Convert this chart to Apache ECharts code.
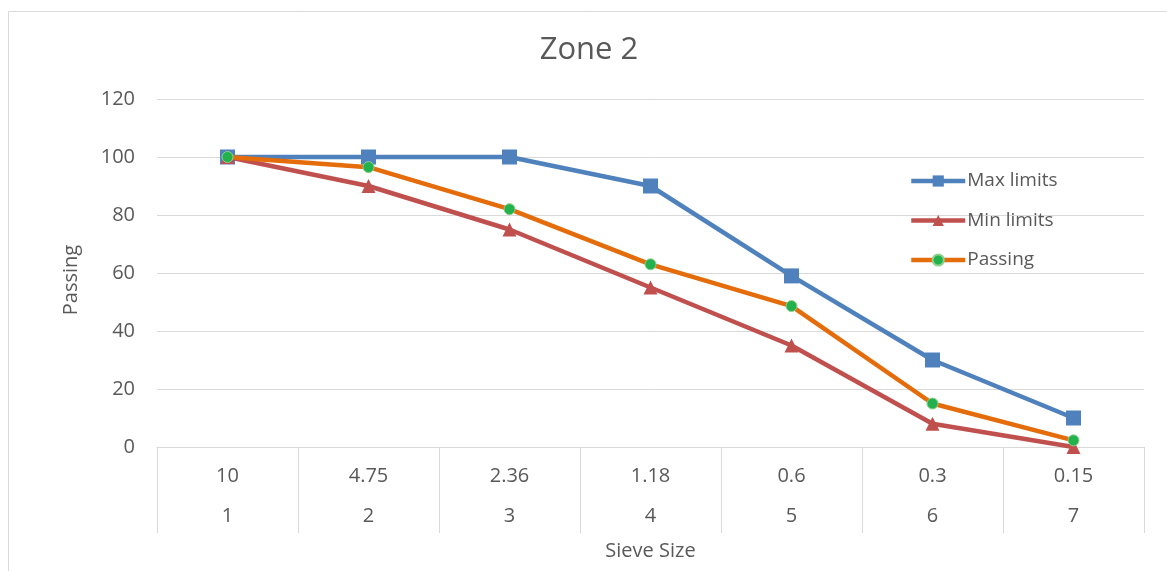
<!DOCTYPE html>
<html>
<head>
<meta charset="utf-8">
<script src="https://cdn.jsdelivr.net/npm/echarts@6/dist/echarts.min.js"></script>
<style>
  html, body { margin: 0; padding: 0; background: #fff; }
  #chart { width: 1167px; height: 571px; }
</style>
</head>
<body>
<div id="chart"></div>
<script>
// Sieve analysis, fine aggregate grading zone 2
const sieveSizes = ['10', '4.75', '2.36', '1.18', '0.6', '0.3', '0.15'];
const sieveNumbers = ['1', '2', '3', '4', '5', '6', '7'];
const maxLimits = [100, 100, 100, 90, 59, 30, 10];
const minLimits = [100, 90, 75, 55, 35, 8, 0];
const passing = [100, 96.5, 82, 63, 48.6, 15, 2.3];
const yTicks = { min: 0, max: 120, interval: 20 };

const textColor = '#595959';
const gridColor = '#d9d9d9';
const fontFamily = '"Open Sans", "Noto Sans", sans-serif';

const chart = echarts.init(document.getElementById('chart'));

chart.setOption({
  backgroundColor: '#ffffff',
  animation: false,
  graphic: [
    {
      type: 'rect',
      shape: { x: 8.5, y: 11.5, width: 1200, height: 600 },
      style: { fill: 'none', stroke: gridColor, lineWidth: 1 },
      silent: true,
      z: -1
    },
    {
      type: 'text',
      x: 589,
      y: 50,
      style: {
        text: 'Zone 2',
        fill: textColor,
        font: '31px ' + fontFamily,
        letterSpacing: 1,
        align: 'center',
        verticalAlign: 'middle'
      },
      silent: true
    },
    {
      // vertical value-axis title
      type: 'text',
      x: 71,
      y: 280,
      rotation: Math.PI / 2,
      style: {
        text: 'Passing',
        fill: textColor,
        font: '20px ' + fontFamily,
        letterSpacing: 1.8,
        align: 'center',
        verticalAlign: 'middle'
      },
      silent: true
    }
  ],
  legend: {
    orient: 'vertical',
    left: 909,
    top: 171,
    padding: 0,
    itemGap: 19.5,
    itemWidth: 54,
    itemHeight: 14,
    lineStyle: { width: 4.5 },
    textStyle: {
      color: textColor, fontSize: 19, lineHeight: 20, fontFamily: fontFamily,
      letterSpacing: 1.2, padding: [0, 0, 0, -3]
    },
    data: ['Max limits', 'Min limits', 'Passing']
  },
  grid: { left: 157, right: 23, top: 99, bottom: 124 },
  xAxis: {
    type: 'category',
    data: sieveSizes,
    boundaryGap: true,
    axisLine: { show: true, lineStyle: { color: gridColor, width: 1 } },
    axisTick: { show: true, length: 86, lineStyle: { color: gridColor, width: 1 } },
    axisLabel: {
      margin: 9,
      formatter: function (value, index) {
        return '{a|' + value + '}\n{a|' + sieveNumbers[index] + '}';
      },
      rich: {
        a: { color: textColor, fontSize: 20, fontFamily: fontFamily, lineHeight: 40 }
      }
    },
    name: 'Sieve Size',
    nameLocation: 'middle',
    nameGap: 94,
    nameTextStyle: { color: textColor, fontSize: 20, fontFamily: fontFamily, letterSpacing: 1.5 }
  },
  yAxis: {
    type: 'value',
    min: yTicks.min,
    max: yTicks.max,
    interval: yTicks.interval,
    axisLine: { show: false },
    axisTick: { show: false },
    splitLine: { show: true, lineStyle: { color: gridColor, width: 1 } },
    axisLabel: { color: textColor, fontSize: 20, fontFamily: fontFamily, margin: 22 }
  },
  series: [
    {
      name: 'Max limits',
      type: 'line',
      data: maxLimits,
      symbol: 'rect',
      symbolSize: 15,
      lineStyle: { color: '#4f81bd', width: 4.5 },
      itemStyle: { color: '#4f81bd' },
      z: 3
    },
    {
      name: 'Min limits',
      type: 'line',
      data: minLimits,
      symbol: 'triangle',
      symbolSize: 14,
      lineStyle: { color: '#c0504d', width: 4.5 },
      itemStyle: { color: '#c0504d' },
      z: 4
    },
    {
      name: 'Passing',
      type: 'line',
      data: passing,
      symbol: 'circle',
      symbolSize: 11,
      lineStyle: { color: '#e46c0a', width: 4.5 },
      itemStyle: { color: '#22b14c', borderColor: '#8fd18f', borderWidth: 1 },
      z: 5
    }
  ]
});
</script>
</body>
</html>
